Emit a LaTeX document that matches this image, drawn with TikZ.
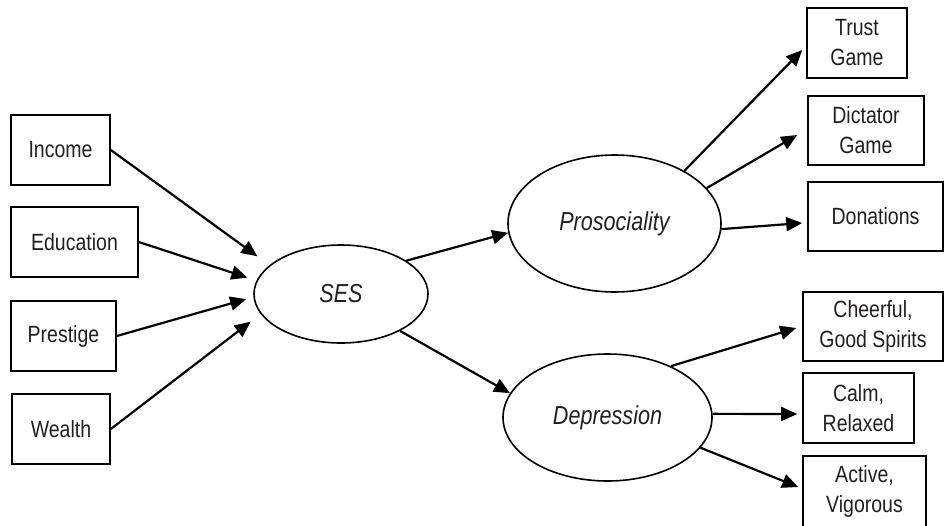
\documentclass[tikz,border=0pt]{standalone}
\usepackage{fontspec}
\setmainfont{Liberation Sans}[FakeStretch=0.83]
\usetikzlibrary{shapes.geometric,arrows.meta}
\definecolor{ink}{HTML}{231F20}
\tikzset{
  obs/.style={draw=black, line width=1.6pt, rectangle, inner sep=0pt,
    align=center, text=ink, font=\fontsize{23.5}{30}\selectfont},
  lat/.style={draw=black, line width=1.6pt, ellipse, inner sep=0pt,
    text=ink, font=\fontsize{26}{30}\selectfont\itshape},
  path/.style={line width=2.2pt, -{Triangle[length=16pt,width=14pt]}}
}
\begin{document}
\begin{tikzpicture}[x=1pt,y=-1pt]
\useasboundingbox (0,0) rectangle (952,525);

% indicators of SES
\node[obs, minimum width=99pt,  minimum height=70pt] (inc) at (60.5,150) {Income};
\node[obs, minimum width=127pt, minimum height=70pt] (edu) at (74.5,242) {Education};
\node[obs, minimum width=105pt, minimum height=70pt] (pre) at (63.5,336) {Prestige};
\node[obs, minimum width=98pt,  minimum height=70pt] (wea) at (61,429)   {Wealth};

% latent variables
\node[lat, minimum width=174pt, minimum height=98pt]  (ses) at (341,294)     {SES};
\node[lat, minimum width=213pt, minimum height=137pt] (pro) at (614.5,223.5) {Prosociality};
\node[lat, minimum width=209pt, minimum height=127pt] (dep) at (607.5,417.5) {Depression};

% outcome measures
\node[obs, minimum width=100pt, minimum height=70pt] (trust) at (857,43)      {Trust\\Game};
\node[obs, minimum width=116pt, minimum height=69pt] (dict)  at (866,130.5)   {Dictator\\Game};
\node[obs, minimum width=135pt, minimum height=69pt] (don)   at (875.5,216.5) {Donations};
\node[obs, minimum width=140pt, minimum height=69pt] (cheer) at (873,326.5)   {Cheerful,\\Good Spirits};
\node[obs, minimum width=111pt, minimum height=70pt] (calm)  at (858.5,408)   {Calm,\\Relaxed};
\node[obs, minimum width=123pt, minimum height=71pt] (act)   at (864.5,491.5) {Active,\\Vigorous};

% paths into SES
\draw[path, shorten >=15pt]  (inc.east) -- (ses.158);
\draw[path, shorten >=9.5pt] (edu.east) -- (ses.171);
\draw[path, shorten >=7.5pt] (pre.east) -- (ses.182);
\draw[path, shorten >=12.5pt](wea.east) -- (ses.194.5);

% SES to the two latent outcomes
\draw[path] (ses.27)  -- (pro.185);
\draw[path] (ses.328) -- (dep.166);

% prosociality indicators
\draw[path] (pro.37.5) -- ([xshift=-4pt,yshift=-7pt]trust.west);
\draw[path] (pro.21.8) -- ([xshift=-10pt,yshift=-4.5pt]dict.west);
\draw[path] (pro.357)  -- ([xshift=-5pt,yshift=-6.5pt]don.west);

% depression indicators
\draw[path] (dep.39.5) -- ([xshift=-6pt,yshift=-1.5pt]cheer.west);
\draw[path] (dep.2)    -- ([xshift=-5pt,yshift=-6pt]calm.west);
\draw[path] (dep.342.7)-- ([xshift=-4pt,yshift=4.5pt]act.west);
\end{tikzpicture}
\end{document}
